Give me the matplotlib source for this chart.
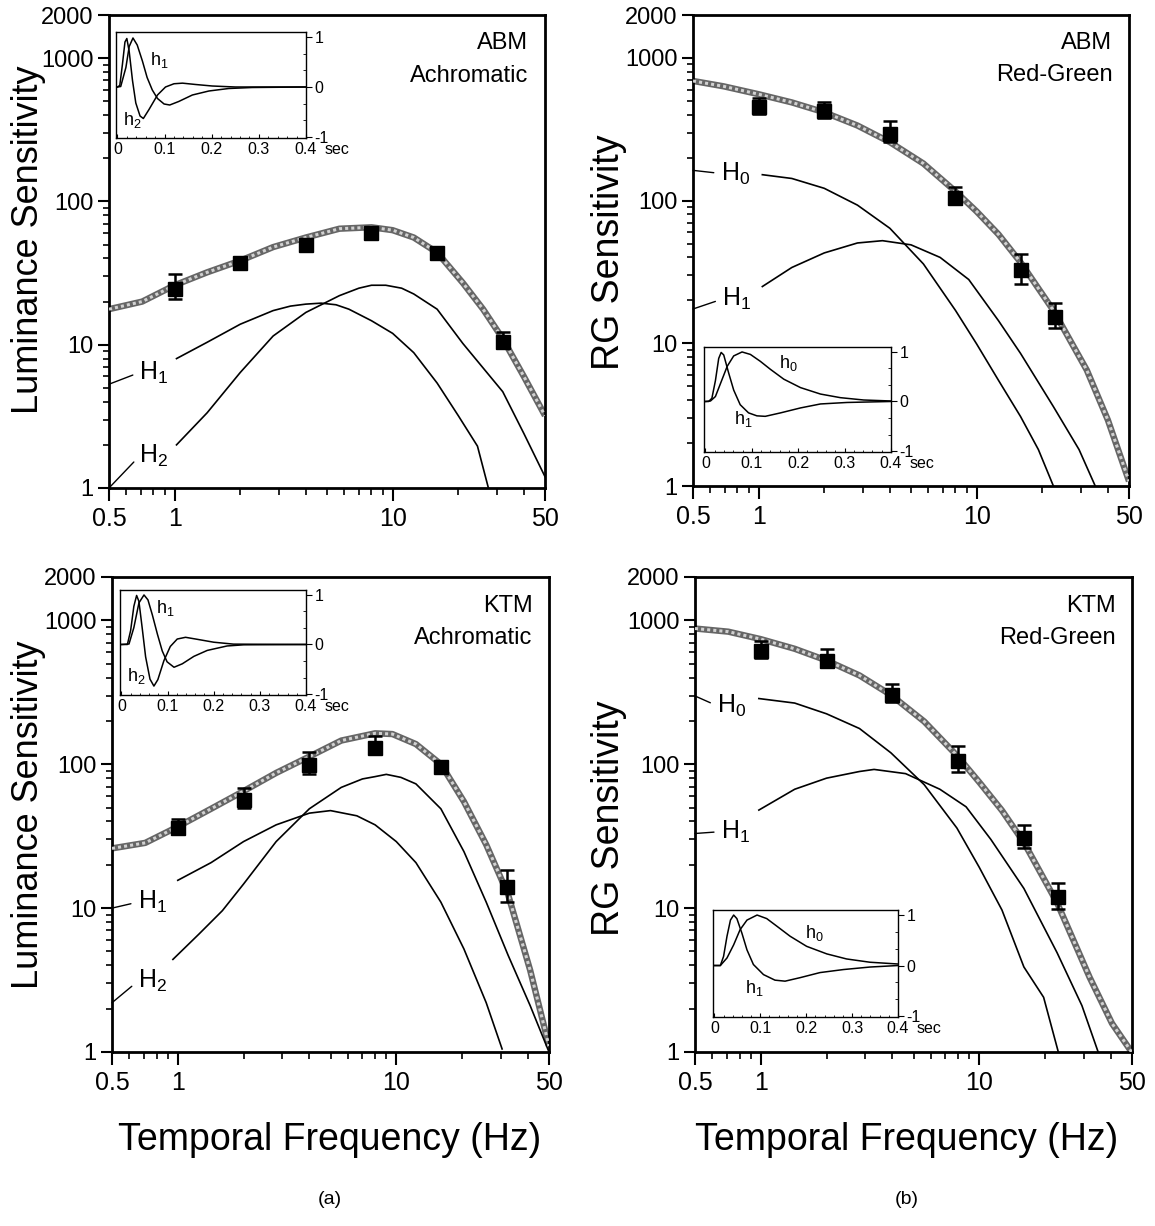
import numpy as np
import matplotlib
matplotlib.use("Agg")
import matplotlib.pyplot as plt
from matplotlib.ticker import FixedLocator, NullFormatter, MultipleLocator

plt.rcParams['font.family'] = ['Liberation Sans', 'DejaVu Sans']
plt.rcParams['mathtext.default'] = 'regular'

# ---------------- panel (a) top: ABM achromatic ----------------
a_freq = [1, 2, 4, 8, 16, 32]
a_sens = [24.5, 37, 50, 60, 44, 10.5]
a_lo = [21, 34, 46, 56, 41, 9.5]
a_hi = [31, 41, 55, 65, 47, 12.2]
a_fit_x = [0.5, 0.71, 1, 1.41, 2, 2.83, 4, 5.7, 8, 10, 12.5, 16, 21, 26, 32, 40, 50]
a_fit_y = [17.7, 20, 26, 32, 38.6, 48, 56, 64.5, 66, 63, 56, 44, 27, 17.7, 11, 6, 3.2]
a_H1_x = [1.02, 1.41, 2, 2.83, 3.4, 4, 4.7, 5.5, 6.3, 8, 10, 12.5, 16, 20, 24.5, 27.5]
a_H1_y = [8.0, 10.4, 13.9, 17.3, 18.6, 19.2, 19.5, 19.0, 17.7, 14.7, 12.0, 8.8, 5.4, 3.2, 1.96, 1.0]
a_H2_x = [1.02, 1.41, 2, 2.83, 4, 5.7, 7, 8, 9.3, 11, 12.5, 16, 21, 32, 40, 50]
a_H2_y = [2.0, 3.35, 6.4, 11.5, 16.8, 22, 24.8, 26, 26, 24.8, 22.6, 17.7, 10.2, 4.7, 2.4, 1.2]
a_h1_t = [0, 0.007, 0.018, 0.025, 0.033, 0.042, 0.053, 0.063, 0.074, 0.085, 0.099, 0.111, 0.13, 0.159, 0.194, 0.236, 0.286, 0.4]
a_h1_v = [0, 0.01, 0.39, 0.81, 0.98, 0.84, 0.52, 0.19, -0.06, -0.23, -0.34, -0.36, -0.29, -0.16, -0.08, -0.03, -0.01, 0]
a_h2_t = [0, 0.005, 0.0106, 0.016, 0.02, 0.025, 0.032, 0.039, 0.048, 0.055, 0.067, 0.085, 0.102, 0.12, 0.138, 0.166, 0.201, 0.25, 0.4]
a_h2_v = [0, 0.03, 0.45, 0.9, 0.97, 0.71, 0.13, -0.32, -0.58, -0.63, -0.45, -0.16, 0, 0.065, 0.077, 0.05, 0.02, 0, 0]

# ---------------- panel (b) top: ABM red-green ----------------
b_freq = [1, 2, 4, 8, 16, 23]
b_sens = [450, 427, 294, 105, 32.4, 15.4]
b_lo = [405, 380, 257, 95, 26.2, 12.9]
b_hi = [528, 488, 364, 125, 42, 19.3]
b_fit_x = [0.5, 0.69, 1, 1.42, 2, 2.84, 4, 5.7, 8, 10, 12.6, 15.9, 22.5, 32, 40, 50]
b_fit_y = [690, 633, 557, 488, 416, 336, 257, 182, 116, 84, 58, 37, 17, 6.5, 2.9, 1.08]
b_H0_x = [1.04, 1.42, 2, 2.84, 4, 5.7, 8, 10, 12.6, 15.9, 19.2, 22.5]
b_H0_y = [152, 143, 122, 93, 64, 36, 17, 9.9, 5.5, 3.07, 1.8, 1.0]
b_H1_x = [1.04, 1.42, 2, 2.84, 3.7, 5, 6.8, 9.2, 12.6, 15.9, 22.5, 29.5, 35]
b_H1_y = [25, 34, 43, 50.5, 52.4, 49, 40, 28, 14.4, 8.5, 3.6, 1.8, 1.0]
b_h0_t = [0, 0.011, 0.0216, 0.032, 0.047, 0.061, 0.079, 0.097, 0.1185, 0.14, 0.169, 0.205, 0.248, 0.291, 0.341, 0.4]
b_h0_v = [0, 0.01, 0.1, 0.35, 0.71, 0.92, 1.0, 0.95, 0.81, 0.65, 0.45, 0.28, 0.15, 0.077, 0.03, 0.01]
b_h1_t = [0, 0.007, 0.014, 0.0216, 0.0287, 0.034, 0.0395, 0.05, 0.061, 0.075, 0.093, 0.111, 0.129, 0.162, 0.205, 0.248, 0.305, 0.4]
b_h1_v = [0, 0, 0.065, 0.42, 0.87, 0.99, 0.94, 0.58, 0.23, -0.065, -0.23, -0.29, -0.30, -0.23, -0.13, -0.05, -0.02, 0]

# ---------------- panel (a) bottom: KTM achromatic ----------------
c_freq = [1, 2, 4, 8, 16, 32]
c_sens = [35.8, 56.6, 98, 130, 95, 14]
c_lo = [32.8, 50, 85, 119, 90, 11]
c_hi = [41.3, 68.5, 121, 157, 100, 18.5]
c_fit_x = [0.5, 0.71, 1, 1.42, 2, 2.82, 4, 5.6, 8, 9.6, 12.3, 16, 20.4, 25.8, 32.5, 41, 50]
c_fit_y = [26, 28.4, 36.8, 49, 65, 87, 113, 146, 164, 162, 138, 100, 55, 27.6, 12.4, 3.7, 1.1]
c_H1_x = [1.0, 1.42, 2, 2.82, 4, 5, 6.6, 8, 10, 12.3, 16, 20.4, 25.8, 30.5]
c_H1_y = [15.6, 20.7, 29, 37.9, 45.7, 47.6, 43.8, 37.9, 29, 20.7, 11, 5.2, 2.2, 1.05]
c_H2_x = [0.95, 1.25, 1.6, 2, 2.82, 4, 5.6, 7, 8, 9, 10.5, 12.3, 16, 20.4, 25.8, 32.5, 41, 50]
c_H2_y = [4.4, 6.6, 9.6, 14.7, 29, 49, 69, 79, 82, 85, 81, 73, 49, 24.7, 11, 4.7, 2.1, 1.0]
c_h1_t = [0, 0.0165, 0.027, 0.038, 0.049, 0.0576, 0.067, 0.078, 0.0885, 0.099, 0.114, 0.132, 0.157, 0.186, 0.229, 0.265, 0.4]
c_h1_v = [0, 0.01, 0.34, 0.84, 1.0, 0.9, 0.6, 0.21, -0.13, -0.35, -0.46, -0.39, -0.24, -0.12, -0.03, -0.007, 0]
c_h2_t = [0, 0.013, 0.02, 0.027, 0.033, 0.038, 0.045, 0.0525, 0.062, 0.0705, 0.079, 0.092, 0.106, 0.121, 0.139, 0.164, 0.2, 0.243, 0.4]
c_h2_v = [0, 0, 0.28, 0.77, 0.99, 0.87, 0.34, -0.25, -0.70, -0.84, -0.71, -0.33, -0.04, 0.11, 0.145, 0.105, 0.046, 0.007, 0]

# ---------------- panel (b) bottom: KTM red-green ----------------
d_freq = [1, 2, 4, 8, 16, 23]
d_sens = [610, 520, 303, 106, 30.6, 11.9]
d_lo = [550, 475, 270, 88, 26.3, 9.8]
d_hi = [723, 628, 359, 134, 38, 14.9]
d_fit_x = [0.5, 0.71, 1, 1.43, 2, 2.83, 3.94, 5.6, 7.9, 10, 12.7, 16, 22.7, 32, 40.5, 50]
d_fit_y = [877, 834, 740, 634, 526, 414, 303, 198, 115, 75, 47.7, 28.6, 10.9, 3.3, 1.58, 0.99]
d_H0_x = [0.98, 1.43, 2, 2.83, 3.94, 5.6, 7.9, 10, 12.7, 16, 19.7, 23]
d_H0_y = [286, 266, 224, 177, 120, 72, 36, 19.2, 9.7, 3.9, 2.4, 1.0]
d_H1_x = [0.98, 1.43, 2, 2.83, 3.3, 4.6, 6.6, 8.7, 11.3, 16, 22.7, 29.5, 35]
d_H1_y = [48, 67, 80, 89, 92, 86, 67, 50.6, 30, 13.7, 4.9, 2.1, 1.0]
d_h0_t = [0, 0.013, 0.0275, 0.042, 0.056, 0.071, 0.093, 0.114, 0.136, 0.165, 0.201, 0.245, 0.288, 0.339, 0.4]
d_h0_v = [0, 0, 0.15, 0.41, 0.71, 0.9, 1.0, 0.93, 0.78, 0.58, 0.38, 0.23, 0.13, 0.065, 0.03]
d_h1_t = [0, 0.013, 0.02, 0.0275, 0.035, 0.042, 0.049, 0.06, 0.071, 0.085, 0.107, 0.132, 0.154, 0.187, 0.23, 0.281, 0.339, 0.4]
d_h1_v = [0, 0, 0.18, 0.58, 0.9, 1.0, 0.93, 0.64, 0.31, 0.02, -0.18, -0.29, -0.31, -0.24, -0.14, -0.08, -0.03, 0]

x_ticks = [0.5, 1, 10, 50]
x_ticklabels = ['0.5', '1', '10', '50']
y_ticks = [1, 10, 100, 1000, 2000]
y_ticklabels = ['1', '10', '100', '1000', '2000']
t_ticks = [0, 0.1, 0.2, 0.3, 0.4]
t_ticklabels = ['0', '0.1', '0.2', '0.3', '0.4']

W, H = 1155, 1226
fig = plt.figure(figsize=(W / 100, H / 100), dpi=100)


def px_rect(x0, y0, x1, y1):
    # pixel box (from top left) -> figure fraction rect
    return [x0 / W, 1 - y1 / H, (x1 - x0) / W, (y1 - y0) / H]


def main_panel(rect, fit_x, fit_y, models, freq, sens, lo, hi, leads, name, kind):
    ax = fig.add_axes(rect)
    ax.plot(fit_x, fit_y, color='0.4', lw=4.6, solid_capstyle='butt', zorder=2)
    ax.plot(fit_x, fit_y, color='0.82', lw=2.2, ls=(0, (1, 1)), zorder=3)
    for mx, my in models:
        ax.plot(mx, my, color='black', lw=1.2, zorder=2)
    sens = np.array(sens)
    yerr = [sens - np.array(lo), np.array(hi) - sens]
    ax.errorbar(freq, sens, yerr=yerr, fmt='s', color='black', ms=10,
                capsize=5, elinewidth=1.8, capthick=1.8, zorder=5)
    for lab, ly, tx, ty in leads:
        ax.annotate(lab, xy=(0.5, ly), xytext=(tx, ty), fontsize=18,
                    va='center', ha='left',
                    arrowprops=dict(arrowstyle='-', lw=1.0, color='black',
                                    shrinkA=3, shrinkB=0, relpos=(0, 0.5)))
    ax.set_xscale('log')
    ax.set_yscale('log')
    ax.set_xlim(0.5, 50)
    ax.set_ylim(1, 2000)
    ax.set_xticks(x_ticks)
    ax.set_xticklabels(x_ticklabels)
    ax.xaxis.set_minor_locator(FixedLocator([0.6, 0.7, 0.8, 0.9, 2, 3, 4, 5, 6, 7, 8, 9, 20, 30, 40]))
    ax.xaxis.set_minor_formatter(NullFormatter())
    ax.set_yticks(y_ticks)
    ax.set_yticklabels(y_ticklabels)
    ax.yaxis.set_minor_locator(FixedLocator([m * d for d in (1, 10, 100) for m in range(2, 10)]))
    ax.yaxis.set_minor_formatter(NullFormatter())
    ax.tick_params(axis='x', which='major', length=9, width=1.5, labelsize=18, pad=5)
    ax.tick_params(axis='x', which='minor', length=5, width=1.2)
    ax.tick_params(axis='y', which='major', length=8, width=1.5, labelsize=17, pad=3)
    ax.tick_params(axis='y', which='minor', length=4, width=1.2)
    for sp in ax.spines.values():
        sp.set_linewidth(2)
    ax.text(0.962, 0.94, name, transform=ax.transAxes, ha='right', va='center', fontsize=17)
    ax.text(0.962, 0.872, kind, transform=ax.transAxes, ha='right', va='center', fontsize=17)
    return ax


def inset(rect, curves, labels):
    ins = fig.add_axes(rect)
    for t, v in curves:
        ins.plot(t, v, color='black', lw=1.1)
    for lab, tx, ty in labels:
        ins.text(tx, ty, lab, fontsize=13, ha='left', va='center')
    ins.set_xlim(-0.003, 0.4)
    ins.set_ylim(-1.02, 1.1)
    ins.set_xticks(t_ticks)
    ins.set_xticklabels(t_ticklabels)
    ins.xaxis.set_minor_locator(MultipleLocator(0.02))
    ins.yaxis.tick_right()
    ins.set_yticks([-1, 0, 1])
    ins.set_yticklabels(['-1', '0', '1'])
    ins.yaxis.set_minor_locator(MultipleLocator(1 / 3))
    ins.tick_params(axis='x', which='major', direction='in', length=3, labelsize=11.5, pad=3)
    ins.tick_params(axis='x', which='minor', direction='in', length=1.8)
    ins.tick_params(axis='y', which='major', direction='out', length=4, labelsize=11.5, pad=2)
    ins.tick_params(axis='y', which='minor', direction='in', length=2)
    for sp in ins.spines.values():
        sp.set_linewidth(1)
    ins.text(1.1, -0.04, 'sec', transform=ins.transAxes, ha='left', va='top', fontsize=11.5)
    return ins


main_panel(px_rect(109, 15, 545, 488), a_fit_x, a_fit_y,
           [(a_H1_x, a_H1_y), (a_H2_x, a_H2_y)], a_freq, a_sens, a_lo, a_hi,
           [('H$_1$', 5.3, 0.69, 6.4), ('H$_2$', 1.0, 0.69, 1.67)], 'ABM', 'Achromatic')
inset(px_rect(116, 32, 306, 138), [(a_h1_t, a_h1_v), (a_h2_t, a_h2_v)],
      [('h$_1$', 0.07, 0.55), ('h$_2$', 0.011, -0.65)])

main_panel(px_rect(693, 15, 1129, 486), b_fit_x, b_fit_y,
           [(b_H0_x, b_H0_y), (b_H1_x, b_H1_y)], b_freq, b_sens, b_lo, b_hi,
           [('H$_0$', 163, 0.67, 155), ('H$_1$', 17.4, 0.68, 20.4)], 'ABM', 'Red-Green')
inset(px_rect(704, 347, 891, 452), [(b_h0_t, b_h0_v), (b_h1_t, b_h1_v)],
      [('h$_0$', 0.158, 0.77), ('h$_1$', 0.0625, -0.35)])

main_panel(px_rect(112, 577, 549, 1052), c_fit_x, c_fit_y,
           [(c_H1_x, c_H1_y), (c_H2_x, c_H2_y)], c_freq, c_sens, c_lo, c_hi,
           [('H$_1$', 10, 0.656, 11), ('H$_2$', 2.2, 0.656, 3.1)], 'KTM', 'Achromatic')
inset(px_rect(120, 590, 306, 695), [(c_h1_t, c_h1_v), (c_h2_t, c_h2_v)],
      [('h$_1$', 0.074, 0.74), ('h$_2$', 0.0115, -0.64)])

main_panel(px_rect(695, 577, 1132, 1052), d_fit_x, d_fit_y,
           [(d_H0_x, d_H0_y), (d_H1_x, d_H1_y)], d_freq, d_sens, d_lo, d_hi,
           [('H$_0$', 298, 0.63, 255), ('H$_1$', 33, 0.657, 34)], 'KTM', 'Red-Green')
inset(px_rect(713, 910, 898, 1017), [(d_h0_t, d_h0_v), (d_h1_t, d_h1_v)],
      [('h$_0$', 0.198, 0.64), ('h$_1$', 0.067, -0.44)])

# axis titles
fig.text(29 / W, 1 - 240 / H, 'Luminance Sensitivity', rotation=90, ha='center', va='center', fontsize=26)
fig.text(609 / W, 1 - 252 / H, 'RG Sensitivity', rotation=90, ha='center', va='center', fontsize=27)
fig.text(29 / W, 1 - 815 / H, 'Luminance Sensitivity', rotation=90, ha='center', va='center', fontsize=26)
fig.text(609 / W, 1 - 818 / H, 'RG Sensitivity', rotation=90, ha='center', va='center', fontsize=27)
fig.text(330 / W, 1 - 1140 / H, 'Temporal Frequency (Hz)', ha='center', va='center', fontsize=27)
fig.text(907 / W, 1 - 1140 / H, 'Temporal Frequency (Hz)', ha='center', va='center', fontsize=27)
fig.text(330 / W, 1 - 1200 / H, '(a)', ha='center', va='center', fontsize=14)
fig.text(907 / W, 1 - 1200 / H, '(b)', ha='center', va='center', fontsize=14)

fig.savefig('out.png', dpi=100)
